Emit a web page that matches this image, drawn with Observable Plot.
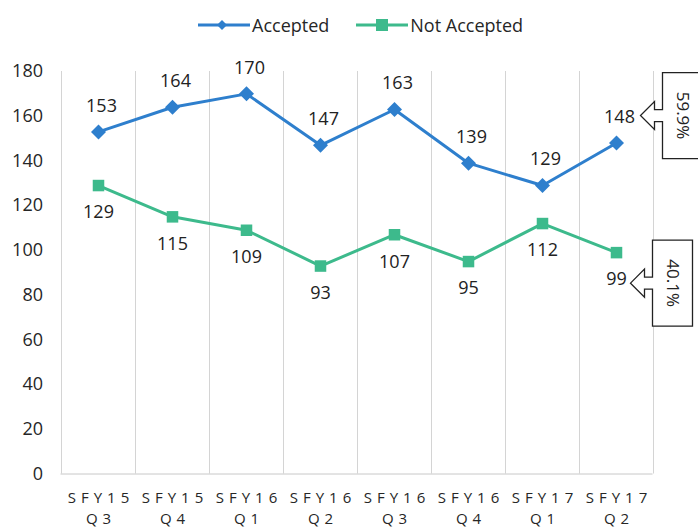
<!DOCTYPE html>
<html><head><meta charset="utf-8">
<script src="https://cdn.jsdelivr.net/npm/d3@7"></script>
<script src="https://cdn.jsdelivr.net/npm/@observablehq/plot@0.6"></script>
<style>
body{margin:0;background:#fff;font-family:"Open Sans",sans-serif;}
#legend{height:45px;box-sizing:border-box;padding-left:198px;padding-top:4px;display:flex;align-items:center;font-size:18px;color:#262626;}
#legend .item{display:flex;align-items:center;margin-right:27px;}
#legend svg{display:block;margin-right:2px;}
#chart svg [aria-label="x-axis tick label"] text{letter-spacing:5px;}
</style></head><body>
<div id="legend"></div>
<div id="chart"></div>
<script>
const quarters = ["SFY15\nQ3","SFY15\nQ4","SFY16\nQ1","SFY16\nQ2","SFY16\nQ3","SFY16\nQ4","SFY17\nQ1","SFY17\nQ2"];
const accepted = [153,164,170,147,163,139,129,148];
const notAccepted = [129,115,109,93,107,95,112,99];
const seriesNames = ["Accepted","Not Accepted"];
const seriesColors = ["#2e7fcd","#3dba8c"];
const latestShare = ["59.9%","40.1%"];
const yTicks = [0,20,40,60,80,100,120,140,160,180];

const rows = [];
quarters.forEach((q,i)=>{
  rows.push({q, series: seriesNames[0], value: accepted[i]});
  rows.push({q, series: seriesNames[1], value: notAccepted[i]});
});

// square diamond symbol
const rhombus = {draw(ctx, size){ const r = Math.sqrt(size/Math.PI); ctx.moveTo(0,-r); ctx.lineTo(r,0); ctx.lineTo(0,r); ctx.lineTo(-r,0); ctx.closePath(); }};

// legend
const legend = d3.select("#legend");
seriesNames.forEach((name,i)=>{
  const item = legend.append("div").attr("class","item");
  const s = item.append("svg").attr("width",52).attr("height",16);
  s.append("line").attr("x1",0).attr("x2",52).attr("y1",8).attr("y2",8).attr("stroke",seriesColors[i]).attr("stroke-width",3);
  if(i===0) s.append("path").attr("d","M24,3L29,8L24,13L19,8Z").attr("fill",seriesColors[i]);
  else s.append("rect").attr("x",20).attr("y",2).attr("width",12).attr("height",12).attr("fill",seriesColors[i]);
  item.append("span").text(name);
});

const W = 698, H = 482, mL = 60.5, mR = 45.5, mT = 26, mB = 53.5;
const step = (W - mL - mR) / quarters.length;

function callouts(index, scales) {
  const g = d3.create("svg:g");
  const last = quarters.length - 1;
  const specs = [
    {v: accepted[last], dx: 24.5, dy: -27, label: latestShare[0]},
    {v: notAccepted[last], dx: 14.5, dy: 31, label: latestShare[1]}
  ];
  specs.forEach(s=>{
    const tx = scales.x(quarters[last]) + s.dx, ty = scales.y(s.v) + s.dy;
    const hx = tx+14, bx = tx+22, br = bx+40, hh = 14, nh = 6, bh = 43;
    g.append("path")
      .attr("d",`M${bx},${ty-bh}H${br}V${ty+bh}H${bx}V${ty+nh}H${hx}V${ty+hh}L${tx},${ty}L${hx},${ty-hh}V${ty-nh}H${bx}Z`)
      .attr("fill","#fff").attr("stroke","#222").attr("stroke-width",1.3);
    g.append("text").attr("transform",`translate(${bx+20},${ty}) rotate(90)`)
      .attr("text-anchor","middle").attr("dy","0.35em").attr("font-size",17).attr("fill","#222")
      .text(s.label);
  });
  return g.node();
}

const plot = Plot.plot({
  width: W, height: H,
  marginLeft: mL, marginRight: mR, marginTop: mT, marginBottom: mB,
  style: {fontFamily: "Open Sans, sans-serif", fontSize: "18px", color: "#262626", background: "transparent", overflow: "visible"},
  x: {type: "point", domain: quarters, padding: 0.5, label: null},
  y: {domain: [0, 180], label: null},
  marks: [
    Plot.ruleX(quarters, {x: d=>d, dx: -step/2, stroke: "#d4d4d4", strokeWidth: 1}),
    Plot.ruleX([quarters[quarters.length-1]], {x: d=>d, dx: step/2, stroke: "#d4d4d4", strokeWidth: 1}),
    Plot.ruleY([0], {stroke: "#c8c8c8", strokeWidth: 1}),
    Plot.axisY({ticks: yTicks, tickSize: 0, tickPadding: 18, fontSize: 18, label: null}),
    Plot.axisX({tickSize: 0, tickPadding: 14, fontSize: 15, lineHeight: 1.4, dx: 2.5, label: null, fill: "#262626"}),
    Plot.lineY(rows, {x: "q", y: "value", z: "series", stroke: "series", strokeWidth: 3}),
    Plot.dot(rows.filter(d=>d.series===seriesNames[0]), {x: "q", y: "value", symbol: rhombus, r: 7.5, fill: seriesColors[0]}),
    Plot.dot(rows.filter(d=>d.series===seriesNames[1]), {x: "q", y: "value", symbol: "square", r: 6.5, fill: seriesColors[1]}),
    Plot.text(rows.filter(d=>d.series===seriesNames[0]), {x: "q", y: "value", text: "value", dy: -26, dx: 3, fontSize: 18, fill: "#222"}),
    Plot.text(rows.filter(d=>d.series===seriesNames[1]), {x: "q", y: "value", text: "value", dy: 27, fontSize: 18, fill: "#222"}),
    callouts
  ],
  color: {domain: seriesNames, range: seriesColors}
});
document.getElementById("chart").appendChild(plot);
</script>
</body></html>
